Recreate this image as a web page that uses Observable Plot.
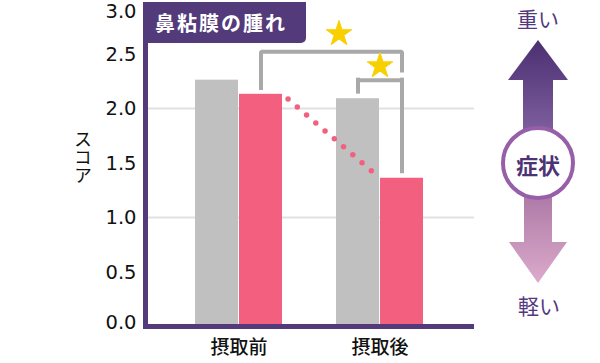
<!DOCTYPE html>
<html>
<head>
<meta charset="utf-8">
<script src="https://cdn.jsdelivr.net/npm/d3@7"></script>
<script src="https://cdn.jsdelivr.net/npm/@observablehq/plot@0.6"></script>
<style>
  html, body { margin: 0; padding: 0; background: #fff; }
  #wrap { position: relative; width: 600px; height: 363px; overflow: hidden;
          font-family: "Noto Sans CJK JP", "Noto Sans", sans-serif; }
  #chart { position: absolute; left: 0; top: 0; }
  #strip { position: absolute; left: 143px; top: 2px; width: 5px; height: 326.5px; background: #533a7a; }
  #title { position: absolute; left: 143px; top: 2px; width: 163px; height: 41px; background: #533a7a;
           border-bottom-right-radius: 5px; color: #fff; font-weight: 700; font-size: 20px;
           letter-spacing: 2px; line-height: 41px; box-sizing: border-box; padding-left: 12px; white-space: nowrap; }
  #ylabel { position: absolute; left: 73px; top: 130px; writing-mode: vertical-rl; text-orientation: upright;
            font-size: 18px; color: #111; line-height: 19px; }
  #key { position: absolute; left: 0; top: 0; }
</style>
</head>
<body>
<div id="wrap">
  <div id="chart"></div>
  <div id="strip"></div>
  <div id="title">鼻粘膜の腫れ</div>
  <div id="ylabel">スコア</div>
  <svg id="key" width="600" height="363" viewBox="0 0 600 363">
    <defs>
      <linearGradient id="upG" x1="0" y1="40" x2="0" y2="135" gradientUnits="userSpaceOnUse">
        <stop offset="0" stop-color="#4a2f71"/>
        <stop offset="1" stop-color="#80609f"/>
      </linearGradient>
      <linearGradient id="dnG" x1="0" y1="195" x2="0" y2="283" gradientUnits="userSpaceOnUse">
        <stop offset="0" stop-color="#ad7aa7"/>
        <stop offset="1" stop-color="#dcaacb"/>
      </linearGradient>
    </defs>
    <text x="538" y="18" text-anchor="middle" dominant-baseline="central" font-size="21" fill="#55397e">重い</text>
    <polygon points="538,40 568,80 553,80 553,165 523,165 523,80 508,80" fill="url(#upG)"/>
    <polygon points="524,163 552,163 552,242 567,242 538,283 509,242 524,242" fill="url(#dnG)"/>
    <circle cx="538" cy="163" r="35" fill="#fff" stroke="#975ea9" stroke-width="4"/>
    <text x="538" y="164" text-anchor="middle" dominant-baseline="central" font-size="22" font-weight="700" fill="#4d3275">症状</text>
    <text x="539" y="305" text-anchor="middle" dominant-baseline="central" font-size="21" fill="#55397e">軽い</text>
  </svg>
</div>
<script>
// ---- data ----
const groups = ["摂取前", "摂取後"];
const greyValues = [2.26, 2.09];
const pinkValues = [2.13, 1.36];
const yTicks = [0, 0.5, 1, 1.5, 2, 2.5, 3];
const gridValues = [1, 2];
// significance brackets (score levels)
const outerBracket = [
  {g: "摂取前", v: 2.17}, {g: "摂取前", v: 2.52},
  {g: "摂取後", v: 2.52}, {g: "摂取後", v: 2.33}
];
const innerTop = [{g: "摂取後", v: 2.26}];
const innerLeft = [{g: "摂取後", v1: 2.26, v2: 2.15}];
const innerRight = [{g: "摂取後", v1: 2.26, v2: 1.42}];
const starOuter = [{g: "摂取後", v: 2.685}];
const starInner = [{g: "摂取後", v: 2.39}];

const grey = groups.map((g, i) => ({g, v: greyValues[i]}));
const pink = groups.map((g, i) => ({g, v: pinkValues[i]}));

const GREY = "#c0c0c0", PINK = "#f3607f", PURPLE = "#533a7a", BRACKET = "#a9a9a9", GOLD = "#f8d000";
const fmt = d3.format(".1f");
const tickFont = {tickSize: 0, tickPadding: 12, tickFormat: fmt, fontSize: 19.5,
                  fontFamily: "DejaVu Sans", fill: "#111", label: null};

const dotted = (index, scales) => {
  const x = scales.x, y = scales.y, bw = x.bandwidth();
  return d3.create("svg:line")
    .attr("x1", x(groups[0]) + bw).attr("y1", y(pinkValues[0]))
    .attr("x2", x(groups[1]) + bw / 2).attr("y2", y(pinkValues[1]))
    .attr("stroke", PINK).attr("stroke-width", 5.5)
    .attr("stroke-linecap", "round")
    .attr("stroke-dasharray", "0 12.2")
    .attr("stroke-dashoffset", -8)
    .node();
};

const chart = Plot.plot({
  width: 600, height: 363,
  marginLeft: 148, marginRight: 126, marginTop: 0, marginBottom: 37,
  x: {domain: groups, paddingInner: 0.38, paddingOuter: 0.338, align: 0.48},
  y: {domain: [0, 3], range: [326, -1]},
  style: {fontFamily: "'Noto Sans CJK JP', sans-serif", background: "transparent", overflow: "visible"},
  marks: [
    Plot.ruleY(gridValues, {stroke: "#e1e1e1", strokeWidth: 2}),
    Plot.barY(grey, {x: "g", y: "v", fill: GREY, insetRight: 44}),
    Plot.barY(pink, {x: "g", y: "v", fill: PINK, insetLeft: 44}),
    dotted,
    Plot.line(outerBracket, {x: "g", y: "v", dx: 22, stroke: BRACKET, strokeWidth: 4,
                             strokeLinejoin: "miter", strokeLinecap: "butt"}),
    Plot.ruleY(innerTop, {x1: "g", x2: "g", y: "v", insetLeft: 22, insetRight: 22,
                          stroke: BRACKET, strokeWidth: 4, strokeLinecap: "square"}),
    Plot.ruleX(innerLeft, {x: "g", y1: "v1", y2: "v2", dx: -22, stroke: BRACKET, strokeWidth: 4, strokeLinecap: "square"}),
    Plot.ruleX(innerRight, {x: "g", y1: "v1", y2: "v2", dx: 22, stroke: BRACKET, strokeWidth: 4, strokeLinecap: "square"}),
    Plot.dot(starOuter, {x: "g", y: "v", dx: -41, symbol: "star", r: 8, fill: GOLD, strokeLinejoin: "round", stroke: GOLD, strokeWidth: 1}),
    Plot.dot(starInner, {x: "g", y: "v", symbol: "star", r: 8, fill: GOLD, strokeLinejoin: "round", stroke: GOLD, strokeWidth: 1}),
    Plot.ruleY([0], {stroke: PURPLE, strokeWidth: 5}),
    Plot.axisY(yTicks.filter(t => t > 0 && t < 3), {...tickFont, dy: 0.5}),
    Plot.axisY([3], {...tickFont, dy: 12}),
    Plot.axisY([0], {...tickFont, dy: -4}),
    Plot.axisX({tickSize: 0, tickPadding: 14, fontSize: 19, fontWeight: 500, fill: "#111", label: null})
  ]
});
document.getElementById("chart").appendChild(chart);
</script>
</body>
</html>
